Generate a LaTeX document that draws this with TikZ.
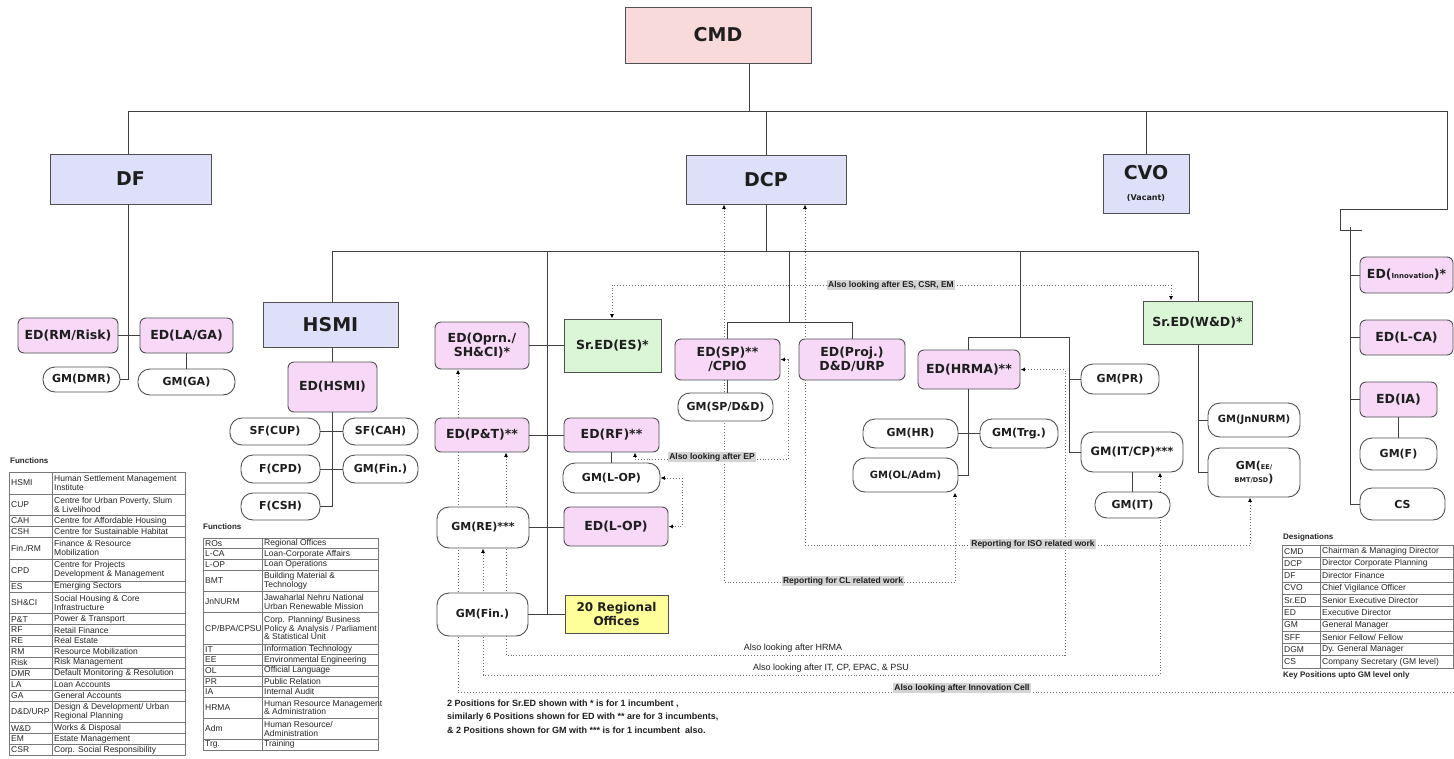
\documentclass[tikz,border=0pt]{standalone}
\usepackage{fontspec}
\setmainfont{DejaVu Sans}
\newfontfamily\lib{Liberation Sans}
\usetikzlibrary{arrows.meta,backgrounds}
\definecolor{cmdpink}{RGB}{249,218,218}
\definecolor{lav}{RGB}{221,224,248}
\definecolor{edpink}{RGB}{247,216,247}
\definecolor{srgreen}{RGB}{218,246,214}
\definecolor{roy}{RGB}{255,255,153}
\definecolor{bord}{RGB}{80,80,80}
\definecolor{txt}{RGB}{30,30,30}
\definecolor{dotc}{RGB}{110,110,110}
\definecolor{lblbg}{RGB}{212,212,212}
\definecolor{tabc}{RGB}{120,120,120}
\tikzset{
 base/.style={draw=bord, line width=0.9pt, inner sep=0pt, align=center, text=txt},
 topbox/.style={base, fill=lav, font=\bfseries\fontsize{19}{21}\selectfont},
 edbox/.style={base, fill=edpink, rounded corners=6pt, font=\bfseries\fontsize{12.5}{14}\selectfont},
 srbox/.style={base, fill=srgreen, font=\bfseries\fontsize{12.5}{14}\selectfont},
 gmbox/.style={base, fill=white, rounded corners=12pt, font=\bfseries\fontsize{11}{13}\selectfont},
 conn/.style={draw=black!75, line width=0.8pt},
 dotln/.style={draw=dotc, dotted, line width=0.9pt},
 tipped/.style={{Latex[length=4.5pt,width=4pt,black]}-{Latex[length=4.5pt,width=4pt,black]}},
 tipend/.style={-{Latex[length=4.5pt,width=4pt,black]}},
 lbl/.style={fill=lblbg, inner sep=1pt, font=\lib\bfseries\fontsize{8.5}{10}\selectfont, text=txt},
 plbl/.style={inner sep=1pt, font=\lib\fontsize{9}{10}\selectfont, text=txt},
 tabline/.style={draw=tabc, line width=0.5pt},
 tabtxt/.style={anchor=west, inner sep=0pt, align=left, font=\lib\fontsize{8.5}{8.8}\selectfont, text=black!85},
 tabttl/.style={anchor=west, inner sep=0pt, font=\lib\bfseries\fontsize{8}{9}\selectfont, text=black!85},
 foot/.style={anchor=west, inner sep=0pt, font=\lib\bfseries\fontsize{9}{10}\selectfont, text=txt},
}
\newcommand{\trow}[8]{%
 \draw[tabline] (#2,#5) rectangle (#4,#6);
 \draw[tabline] (#3,#5) -- (#3,#6);
 \node[tabtxt] (#1a) at ({#2+2},{(#5+#6)/2}) {#7};
 \node[tabtxt] (#1b) at ({#3+2},{(#5+#6)/2}) {#8};}
\begin{document}
\begin{tikzpicture}[x=1pt,y=-1pt]
\useasboundingbox (0,0) rectangle (1454,758);

% ---------- top level ----------
\node[base, fill=cmdpink, font=\bfseries\fontsize{19}{21}\selectfont, minimum width=186pt, minimum height=56pt] (cmd) at (718,35) {CMD};
\node[topbox, minimum width=161pt, minimum height=50pt] (df) at (130.5,179) {DF};
\node[topbox, minimum width=160pt, minimum height=49pt] (dcp) at (766,179.5) {DCP};
\node[topbox, minimum width=86pt, minimum height=59pt] (cvo) at (1146,183.5) {CVO\\{\fontsize{8}{9}\selectfont (Vacant)}};

% ---------- right column ----------
\node[edbox, minimum width=93pt, minimum height=36pt] (edinn) at (1406.5,275) {ED({\fontsize{7}{8}\selectfont Innovation})*};
\node[edbox, minimum width=93pt, minimum height=35pt] (edlca) at (1406.5,337.5) {ED(L-CA)};
\node[edbox, minimum width=77pt, minimum height=35pt] (edia) at (1398.5,399.5) {ED(IA)};
\node[gmbox, minimum width=77pt, minimum height=32pt] (gmf) at (1398.5,454) {GM(F)};
\node[gmbox, minimum width=85pt, minimum height=32pt] (cs) at (1402.5,504) {CS};

% ---------- DF branch ----------
\node[edbox, minimum width=100pt, minimum height=35pt] (edrm) at (68,335.5) {ED(RM/Risk)};
\node[edbox, minimum width=93pt, minimum height=35pt] (edla) at (186.5,335.5) {ED(LA/GA)};
\node[gmbox, minimum width=77pt, minimum height=25pt] (gmdmr) at (81.5,379.5) {GM(DMR)};
\node[gmbox, minimum width=97pt, minimum height=26pt] (gmga) at (186.5,382) {GM(GA)};

% ---------- HSMI ----------
\node[topbox, minimum width=135pt, minimum height=45pt] (hsmi) at (330.5,324.5) {HSMI};
\node[edbox, minimum width=89pt, minimum height=50pt] (edhsmi) at (332.5,387) {ED(HSMI)};
\node[gmbox, minimum width=90pt, minimum height=27pt] (sfcup) at (275,431.5) {SF(CUP)};
\node[gmbox, minimum width=75pt, minimum height=27pt] (sfcah) at (380.5,431.5) {SF(CAH)};
\node[gmbox, minimum width=79pt, minimum height=28pt] (fcpd) at (280.5,469) {F(CPD)};
\node[gmbox, minimum width=75pt, minimum height=28pt] (gmfina) at (380.5,469) {GM(Fin.)};
\node[gmbox, minimum width=79pt, minimum height=27pt] (fcsh) at (280.5,506.5) {F(CSH)};

% ---------- P&T column ----------
\node[edbox, minimum width=94pt, minimum height=47pt] (edoprn) at (482,345.5) {ED(Oprn./\\SH\&CI)*};
\node[srbox, minimum width=97pt, minimum height=53pt] (sredes) at (612.5,345.5) {Sr.ED(ES)*};
\node[edbox, minimum width=94pt, minimum height=34pt] (edpt) at (482,435) {ED(P\&T)**};
\node[edbox, minimum width=95pt, minimum height=34pt] (edrf) at (611.5,435) {ED(RF)**};
\node[gmbox, minimum width=97pt, minimum height=30pt] (gmlop) at (611.5,478) {GM(L-OP)};
\node[edbox, minimum width=104pt, minimum height=39pt] (edlop) at (616,526.5) {ED(L-OP)};
\node[gmbox, minimum width=92pt, minimum height=41pt] (gmre) at (483,527.5) {GM(RE)***};
\node[gmbox, minimum width=91pt, minimum height=43pt] (gmfinb) at (482.5,614.5) {GM(Fin.)};
\node[base, fill=roy, font=\bfseries\fontsize{12}{14}\selectfont, minimum width=103pt, minimum height=38pt] (ro) at (616.5,614) {20 Regional\\Offices};

% ---------- SP / Proj ----------
\node[edbox, minimum width=105pt, minimum height=41pt] (edsp) at (727.5,359.5) {ED(SP)**\\/CPIO};
\node[edbox, minimum width=106pt, minimum height=41pt] (edproj) at (852,359.5) {ED(Proj.)\\D\&D/URP};
\node[gmbox, minimum width=95pt, minimum height=28pt] (gmspdd) at (725.5,407) {GM(SP/D\&D)};

% ---------- HRMA ----------
\node[edbox, minimum width=102pt, minimum height=39pt] (edhrma) at (969,369.5) {ED(HRMA)**};
\node[gmbox, minimum width=95pt, minimum height=29pt] (gmhr) at (910.5,433.5) {GM(HR)};
\node[gmbox, minimum width=78pt, minimum height=29pt] (gmtrg) at (1019,433.5) {GM(Trg.)};
\node[gmbox, minimum width=105pt, minimum height=34pt, font=\bfseries\fontsize{10}{12}\selectfont] (gmoladm) at (905.5,475) {GM(OL/Adm)};
\node[gmbox, minimum width=78pt, minimum height=30pt] (gmpr) at (1120,379) {GM(PR)};
\node[gmbox, minimum width=102pt, minimum height=40pt, font=\bfseries\fontsize{11.5}{13}\selectfont] (gmitcp) at (1132,452) {GM(IT/CP)***};
\node[gmbox, minimum width=75pt, minimum height=26pt] (gmit) at (1132.5,505) {GM(IT)};

% ---------- W&D ----------
\node[srbox, minimum width=109pt, minimum height=43pt] (srewd) at (1197.5,322.5) {Sr.ED(W\&D)*};
\node[gmbox, minimum width=92pt, minimum height=34pt, font=\bfseries\fontsize{10}{12}\selectfont] (gmjn) at (1254,420) {GM(JnNURM)};
\node[gmbox, minimum width=92pt, minimum height=49pt] (gmee) at (1254,472.5) {GM({\fontsize{6.5}{7}\selectfont EE/}\\{\fontsize{6.5}{7}\selectfont BMT/DSD})};

% ---------- solid connectors ----------
\coordinate (b0) at (128,111);
\coordinate (bR) at (1447,111);
\coordinate (bcmd) at (749,111);
\draw[conn] (b0) -- (bR);
\draw[conn] (cmd.south -| bcmd) -- (bcmd);
\draw[conn] (b0) -- (df.north -| b0);
\draw[conn] (dcp.north) -- (dcp.north |- b0);
\draw[conn] (cvo.north) -- (cvo.north |- b0);
\coordinate (rb1) at (1447,209);
\coordinate (rb2) at (1340,209);
\coordinate (rb3) at (1340,230);
\coordinate (rb4) at (1362,230);
\draw[conn] (bR) -- (rb1) -- (rb2) -- (rb3) -- (rb4);
\coordinate (rs0) at (1350,227);
\draw[conn] (rs0) |- (cs.west);
\draw[conn] (rs0 |- edinn.west) -- (edinn.west);
\draw[conn] (rs0 |- edlca.west) -- (edlca.west);
\draw[conn] (rs0 |- edia.west) -- (edia.west);
\draw[conn] (edia.south) -- (gmf.north);

\coordinate (dfj) at (128,380);
\draw[conn] (df.south -| dfj) |- (gmdmr.east);
\draw[conn] (edrm.east) -- (edla.west);
\draw[conn] (edla.south) -- (gmga.north);

\coordinate (s0) at (332,251);
\coordinate (s1) at (1198,251);
\draw[conn] (s0) -- (s1);
\draw[conn] (dcp.south) -- (dcp.south |- s0);
\draw[conn] (s0) -- (hsmi.north -| s0);
\draw[conn] (hsmi.south -| s0) -- (edhsmi.north -| s0);
\draw[conn] (edhsmi.south -| s0) |- (fcsh.east);
\draw[conn] (sfcup.east) -- (sfcah.west);
\draw[conn] (fcpd.east) -- (gmfina.west);

\coordinate (s2) at (547,251);
\draw[conn] (s2) -- (s2 |- ro.west);
\draw[conn] (gmfinb.east) -- (gmfinb.east -| ro.west);
\draw[conn] (edoprn.east) -- (sredes.west);
\draw[conn] (edpt.east) -- (edrf.west);
\draw[conn] (edrf.south) -- (gmlop.north);
\draw[conn] (gmre.east) -- (gmre.east -| edlop.west);

\coordinate (s3) at (789,251);
\coordinate (s3b) at (789,322);
\draw[conn] (s3) -- (s3b);
\draw[conn] (edsp.north |- s3b) -- (edproj.north |- s3b);
\draw[conn] (edsp.north |- s3b) -- (edsp.north);
\draw[conn] (edproj.north |- s3b) -- (edproj.north);
\draw[conn] (edsp.south) -- (gmspdd.north -| edsp.south);

\coordinate (s4) at (1020,251);
\coordinate (h1) at (968,337);
\coordinate (h2) at (1069,337);
\draw[conn] (s4) -- (s4 |- h1);
\draw[conn] (h1) -- (h2);
\draw[conn] (h1) -- (edhrma.north -| h1);
\draw[conn] (edhrma.south -| h1) |- (gmoladm.east);
\draw[conn] (gmhr.east) -- (gmtrg.west);
\draw[conn] (h2) |- (gmitcp.west);
\draw[conn] (h2 |- gmpr.west) -- (gmpr.west);
\draw[conn] (gmitcp.south) -- (gmit.north -| gmitcp.south);

\draw[conn] (s1) -- (srewd.north -| s1);
\draw[conn] (srewd.south -| s1) |- (gmee.west);
\draw[conn] (s1 |- gmjn.west) -- (gmjn.west);

% ---------- dotted reporting lines (behind the boxes) ----------
\begin{pgfonlayer}{background}
\fill[white] (0,0) rectangle (1454,758);
\coordinate (d1a) at (612,285);
\coordinate (d1b) at (1171,285);
\draw[dotln, tipped] (sredes.north -| d1a) -- (d1a) -- (d1b) -- (srewd.north -| d1b);
\coordinate (d2a) at (724,582);
\coordinate (d2b) at (955,582);
\draw[dotln, tipped] (dcp.south -| d2a) -- (d2a) -- (d2b) -- (gmoladm.south -| d2b);
\coordinate (d3a) at (805,545);
\coordinate (d3b) at (1250,545);
\draw[dotln, tipped] (dcp.south -| d3a) -- (d3a) -- (d3b) -- (gmee.south -| d3b);
\coordinate (d4b) at (788,459);
\coordinate (d4c) at (635,459);
\draw[dotln, tipped] (edsp.east) -| (d4b) -- (d4c) -- (edrf.south -| d4c);
\coordinate (d5) at (682,478);
\draw[dotln, tipped] (gmlop.east) -- (gmlop.east -| d5) -- (d5 |- edlop.east) -- (edlop.east);
\coordinate (d6a) at (458,692);
\coordinate (d6b) at (1454,692);
\draw[dotln, tipend] (d6b) -- (d6a) -- (edoprn.south -| d6a);
\coordinate (d7a) at (506,655);
\coordinate (d7b) at (1065,655);
\draw[dotln, tipped] (edpt.south -| d7a) -- (d7a) -- (d7b) -- (d7b |- edhrma.east) -- (edhrma.east);
\coordinate (d8a) at (483,675);
\coordinate (d8b) at (1160,675);
\draw[dotln, tipped] (gmre.south) -- (d8a) -- (d8b) -- (gmitcp.south -| d8b);
\end{pgfonlayer}

% ---------- labels on dotted lines ----------
\node[lbl] (l1) at (891,285) {Also looking after ES, CSR, EM};
\node[lbl] (l2) at (712,457) {Also looking after EP};
\node[lbl] (l3) at (1033,544) {Reporting for ISO related work};
\node[lbl] (l4) at (843,581) {Reporting for CL related work};
\node[plbl] (l5) at (793,648) {Also looking after HRMA};
\node[plbl] (l6) at (831,668) {Also looking after IT, CP, EPAC, \& PSU};
\node[lbl] (l7) at (962,688) {Also looking after Innovation Cell};

% ---------- footnote ----------
\node[foot] (fn1) at (447,704) {2 Positions for Sr.ED shown with * is for 1 incumbent ,};
\node[foot] (fn2) at (447,717) {similarly 6 Positions shown for ED with ** are for 3 incumbents,};
\node[foot] (fn3) at (447,730) {\& 2 Positions shown for GM with *** is for 1 incumbent~ also.};

% ---------- functions table (left) ----------
\node[tabttl] (ft1) at (10,461) {Functions};
\trow{fa}{9}{52}{185}{472}{493.8}{HSMI}{Human Settlement Management\\Institute}
\trow{fb}{9}{52}{185}{493.8}{515.6}{CUP}{Centre for Urban Poverty, Slum\\\& Livelihood}
\trow{fc}{9}{52}{185}{515.6}{526.5}{CAH}{Centre for Affordable Housing}
\trow{fd}{9}{52}{185}{526.5}{537.4}{CSH}{Centre for Sustainable Habitat}
\trow{fe}{9}{52}{185}{537.4}{559.2}{Fin./RM}{Finance \& Resource\\Mobilization}
\trow{ff}{9}{52}{185}{559.2}{581}{CPD}{Centre for Projects\\Development \& Management}
\trow{fg}{9}{52}{185}{581}{591.9}{ES}{Emerging Sectors}
\trow{fh}{9}{52}{185}{591.9}{613.7}{SH\&CI}{Social Housing \& Core\\Infrastructure}
\trow{fi}{9}{52}{185}{613.7}{624.6}{P\&T}{Power \& Transport}
\trow{fj}{9}{52}{185}{624.6}{635.5}{RF}{Retail Finance}
\trow{fk}{9}{52}{185}{635.5}{646.4}{RE}{Real Estate}
\trow{fl}{9}{52}{185}{646.4}{657.3}{RM}{Resource Mobilization}
\trow{fm}{9}{52}{185}{657.3}{668.2}{Risk}{Risk Management}
\trow{fn}{9}{52}{185}{668.2}{679.1}{DMR}{Default Monitoring \& Resolution}
\trow{fo}{9}{52}{185}{679.1}{690}{LA}{Loan Accounts}
\trow{fp}{9}{52}{185}{690}{700.9}{GA}{General Accounts}
\trow{fq}{9}{52}{185}{700.9}{722.7}{D\&D/URP}{Design \& Development/ Urban\\Regional Planning}
\trow{fr}{9}{52}{185}{722.7}{733.6}{W\&D}{Works \& Disposal}
\trow{fs}{9}{52}{185}{733.6}{744.5}{EM}{Estate Management}
\trow{ft}{9}{52}{185}{744.5}{755.4}{CSR}{Corp. Social Responsibility}

% ---------- functions table (middle) ----------
\node[tabttl] (ft2) at (203,527) {Functions};
\trow{ga}{203}{262}{378}{538}{548.6}{ROs}{Regional Offices}
\trow{gb}{203}{262}{378}{548.6}{559.2}{L-CA}{Loan-Corporate Affairs}
\trow{gc}{203}{262}{378}{559.2}{569.8}{L-OP}{Loan Operations}
\trow{gd}{203}{262}{378}{569.8}{591}{BMT}{Building Material \&\\Technology}
\trow{ge}{203}{262}{378}{591}{612.2}{JnNURM}{Jawaharlal Nehru National\\Urban Renewable Mission}
\trow{gf}{203}{262}{378}{612.2}{644}{CP/BPA/CPSU}{Corp. Planning/ Business\\Policy \& Analysis / Parliament\\\& Statistical Unit}
\trow{gg}{203}{262}{378}{644}{654.6}{IT}{Information Technology}
\trow{gh}{203}{262}{378}{654.6}{665.2}{EE}{Environmental Engineering}
\trow{gi}{203}{262}{378}{665.2}{675.8}{OL}{Official Language}
\trow{gj}{203}{262}{378}{675.8}{686.4}{PR}{Public Relation}
\trow{gk}{203}{262}{378}{686.4}{697}{IA}{Internal Audit}
\trow{gl}{203}{262}{378}{697}{718.2}{HRMA}{Human Resource Management\\\& Administration}
\trow{gm}{203}{262}{378}{718.2}{739.4}{Adm}{Human Resource/\\Administration}
\trow{gn}{203}{262}{378}{739.4}{750}{Trg.}{Training}

% ---------- designations ----------
\node[tabttl] (dt) at (1283,537) {Designations};
\trow{ha}{1282}{1320}{1453}{545}{557.3}{CMD}{Chairman \& Managing Director}
\trow{hb}{1282}{1320}{1453}{557.3}{569.6}{DCP}{Director Corporate Planning}
\trow{hc}{1282}{1320}{1453}{569.6}{581.9}{DF}{Director Finance}
\trow{hd}{1282}{1320}{1453}{581.9}{594.2}{CVO}{Chief Vigilance Officer}
\trow{he}{1282}{1320}{1453}{594.2}{606.5}{Sr.ED}{Senior Executive Director}
\trow{hf}{1282}{1320}{1453}{606.5}{618.8}{ED}{Executive Director}
\trow{hg}{1282}{1320}{1453}{618.8}{631.1}{GM}{General Manager}
\trow{hh}{1282}{1320}{1453}{631.1}{643.4}{SFF}{Senior Fellow/ Fellow}
\trow{hi}{1282}{1320}{1453}{643.4}{655.7}{DGM}{Dy. General Manager}
\trow{hj}{1282}{1320}{1453}{655.7}{668}{CS}{Company Secretary (GM level)}
\node[tabttl] (kp) at (1283,675) {Key Positions upto GM level only};
\end{tikzpicture}
\end{document}
